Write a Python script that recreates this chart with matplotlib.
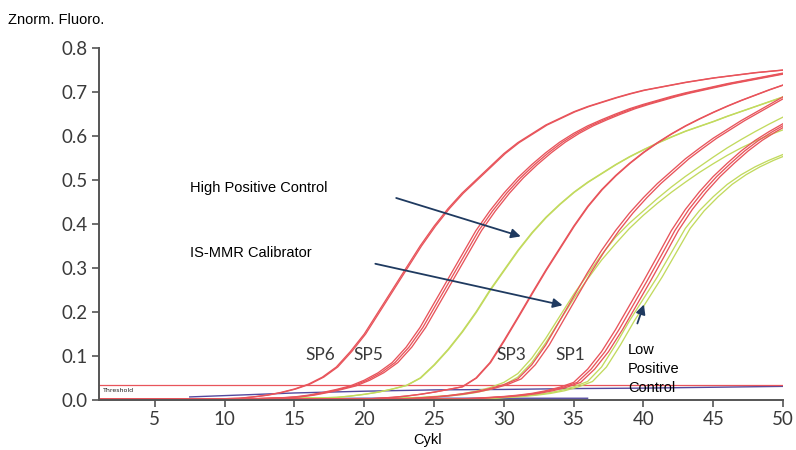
import numpy as np
import matplotlib
matplotlib.use("Agg")
import matplotlib.pyplot as plt

##### data #####

cycles = np.arange(1, 51)

# SP6 standard (red)
sp6 = [0.002, 0.002, 0.002, 0.002, 0.002, 0.002, 0.002, 0.002, 0.003, 0.003,
       0.004, 0.007, 0.011, 0.017, 0.025, 0.036, 0.052, 0.075, 0.11, 0.15,
       0.20, 0.25, 0.30, 0.35, 0.395, 0.435, 0.47, 0.50, 0.53, 0.56,
       0.585, 0.605, 0.625, 0.64, 0.655, 0.667, 0.677, 0.687, 0.696, 0.704,
       0.71, 0.716, 0.722, 0.727, 0.732, 0.736, 0.74, 0.744, 0.747, 0.75]
sp6_ct = [0.0, 0.1]

# SP5 standard (red)
sp5 = [0.002, 0.002, 0.002, 0.002, 0.002, 0.002, 0.002, 0.002, 0.002, 0.002,
       0.003, 0.003, 0.004, 0.005, 0.007, 0.011, 0.017, 0.024, 0.032, 0.045,
       0.062, 0.085, 0.12, 0.165, 0.22, 0.275, 0.33, 0.385, 0.43, 0.47,
       0.505, 0.535, 0.562, 0.586, 0.606, 0.623, 0.637, 0.65, 0.662, 0.672,
       0.681, 0.69, 0.698, 0.705, 0.712, 0.719, 0.725, 0.731, 0.737, 0.743]
sp5_ct = [0.0, 0.2, 0.4]

# High Positive Control (green)
hpc = [0.002, 0.002, 0.002, 0.002, 0.002, 0.002, 0.002, 0.002, 0.002, 0.002,
       0.003, 0.003, 0.003, 0.004, 0.004, 0.005, 0.005, 0.006, 0.009, 0.013,
       0.018, 0.025, 0.033, 0.05, 0.08, 0.115, 0.155, 0.2, 0.25, 0.295,
       0.34, 0.38, 0.415, 0.445, 0.472, 0.495, 0.515, 0.535, 0.553, 0.569,
       0.584, 0.598, 0.611, 0.622, 0.633, 0.645, 0.656, 0.667, 0.678, 0.689]
hpc_ct = [0.0, 0.05]

# SP3 standard (red)
sp3 = [0.002, 0.002, 0.002, 0.002, 0.002, 0.002, 0.002, 0.002, 0.002, 0.002,
       0.002, 0.002, 0.002, 0.002, 0.002, 0.002, 0.002, 0.002, 0.002, 0.002,
       0.004, 0.006, 0.009, 0.013, 0.018, 0.024, 0.03, 0.05, 0.085, 0.135,
       0.188, 0.242, 0.295, 0.345, 0.395, 0.44, 0.478, 0.51, 0.538, 0.563,
       0.585, 0.605, 0.623, 0.639, 0.654, 0.668, 0.681, 0.693, 0.705, 0.716]
sp3_ct = [0.0, 0.05]

# SP1 standard (red), next to the IS-MMR calibrator
sp1 = [0.002, 0.002, 0.002, 0.002, 0.002, 0.002, 0.002, 0.002, 0.002, 0.002,
       0.002, 0.002, 0.002, 0.002, 0.002, 0.002, 0.002, 0.002, 0.002, 0.002,
       0.002, 0.003, 0.003, 0.005, 0.007, 0.01, 0.014, 0.019, 0.026, 0.035,
       0.048, 0.08, 0.125, 0.18, 0.235, 0.29, 0.34, 0.385, 0.425, 0.46,
       0.492, 0.52, 0.548, 0.572, 0.595, 0.615, 0.635, 0.653, 0.671, 0.689]
sp1_ct = [0.0, 0.25]

# IS-MMR calibrator (green), two replicates
cal_a = [0.003, 0.003, 0.003, 0.003, 0.003, 0.003, 0.003, 0.003, 0.003, 0.003,
         0.003, 0.003, 0.003, 0.003, 0.003, 0.003, 0.003, 0.003, 0.003, 0.003,
         0.003, 0.004, 0.005, 0.006, 0.008, 0.01, 0.014, 0.02, 0.028, 0.04,
         0.06, 0.095, 0.14, 0.19, 0.24, 0.285, 0.33, 0.37, 0.402, 0.43,
         0.458, 0.484, 0.508, 0.53, 0.552, 0.573, 0.592, 0.61, 0.627, 0.643]
cal_b = [0.003, 0.003, 0.003, 0.003, 0.003, 0.003, 0.003, 0.003, 0.003, 0.003,
         0.003, 0.003, 0.003, 0.003, 0.003, 0.003, 0.003, 0.003, 0.003, 0.003,
         0.003, 0.003, 0.004, 0.005, 0.007, 0.009, 0.012, 0.017, 0.024, 0.034,
         0.052, 0.085, 0.13, 0.18, 0.23, 0.275, 0.318, 0.355, 0.39, 0.42,
         0.447, 0.472, 0.495, 0.517, 0.537, 0.556, 0.573, 0.588, 0.602, 0.614]

# late red standards next to the low positive control
late = [0.002, 0.002, 0.002, 0.002, 0.002, 0.002, 0.002, 0.002, 0.002, 0.002,
        0.002, 0.002, 0.002, 0.002, 0.002, 0.002, 0.002, 0.002, 0.002, 0.002,
        0.002, 0.002, 0.002, 0.002, 0.002, 0.002, 0.003, 0.004, 0.006, 0.008,
        0.011, 0.015, 0.021, 0.029, 0.04, 0.07, 0.11, 0.16, 0.215, 0.27,
        0.327, 0.385, 0.433, 0.473, 0.508, 0.538, 0.566, 0.59, 0.61, 0.628]
late_ct = [0.0, 0.25, 0.5]

# Low Positive Control (green)
lpc = [0.003, 0.003, 0.003, 0.003, 0.003, 0.003, 0.003, 0.003, 0.003, 0.003,
       0.003, 0.003, 0.003, 0.003, 0.003, 0.003, 0.003, 0.003, 0.003, 0.003,
       0.003, 0.003, 0.003, 0.003, 0.003, 0.003, 0.003, 0.003, 0.004, 0.006,
       0.008, 0.011, 0.015, 0.021, 0.03, 0.042, 0.075, 0.125, 0.18, 0.23,
       0.28, 0.335, 0.39, 0.43, 0.462, 0.49, 0.512, 0.53, 0.545, 0.558]
lpc_ct = [0.0, 0.35]

# flat (negative) traces along the bottom
neg1_x = [7.5, 10, 15, 20, 25, 30, 35, 40, 45, 50]
neg1_y = [0.007, 0.010, 0.016, 0.020, 0.023, 0.024, 0.026, 0.027, 0.029, 0.031]
neg2_x = [9, 15, 20, 25, 30, 36]
neg2_y = [0.003, 0.003, 0.004, 0.004, 0.004, 0.004]

threshold = 0.034

RED = '#e8545b'
GREEN = '#c2da5e'
PURPLE = '#54499e'
NAVY = '#1f3a60'

##### plot #####

fig = plt.figure(figsize=(7.96, 4.5), dpi=100)
ax = fig.add_axes([0.1244, 0.1111, 0.8593, 0.7822])

ax.plot(neg2_x, neg2_y, color=PURPLE, lw=1.0)
ax.plot(neg1_x, neg1_y, color=PURPLE, lw=1.0)
ax.axhline(threshold, color=RED, lw=0.9)

for prof, cts in [(hpc, hpc_ct), (cal_a, [0.0]), (cal_b, [0.0]), (lpc, lpc_ct)]:
    for ct in cts:
        ax.plot(cycles + ct, prof, color=GREEN, lw=0.95)

for prof, cts in [(sp6, sp6_ct), (sp5, sp5_ct), (sp3, sp3_ct),
                  (sp1, sp1_ct), (late, late_ct)]:
    for ct in cts:
        ax.plot(cycles + ct, prof, color=RED, lw=0.95)

ax.set_xlim(1, 50)
ax.set_ylim(0, 0.8)
ax.set_xticks(range(5, 51, 5))
ax.set_yticks(np.arange(0, 0.81, 0.1))
ax.set_yticklabels(['%.1f' % v for v in np.arange(0, 0.81, 0.1)])

for s in ['top', 'right']:
    ax.spines[s].set_visible(False)
for s in ['left', 'bottom']:
    ax.spines[s].set_color('#555555')
    ax.spines[s].set_linewidth(1.4)
ax.tick_params(colors='#555555', width=1.2, length=5, labelsize=13.5,
               labelcolor='#3a3a3a', pad=3)
for lab in ax.get_xticklabels() + ax.get_yticklabels():
    lab.set_family('Lato')

# labels
arial = 'Liberation Sans'
fig.text(0.01, 0.955, 'Znorm. Fluoro.', family=arial, fontsize=10.5, va='center')
ax.set_xlabel('Cykl', family=arial, fontsize=10.5)
ax.xaxis.set_label_coords(0.481, -0.095)
ax.text(1.3, 0.022, 'Threshold', fontsize=4.5, va='center', color='#222222')

ax.text(7.5, 0.482, 'High Positive Control', family=arial, fontsize=10.5, va='center')
ax.text(7.5, 0.334, 'IS-MMR Calibrator', family=arial, fontsize=10.5, va='center')
ax.text(38.9, 0.070, 'Low\nPositive\nControl', family=arial, fontsize=10.5,
        va='center', linespacing=1.45)

for name, x in [('SP6', 15.75), ('SP5', 19.2), ('SP3', 29.5), ('SP1', 33.7)]:
    ax.text(x, 0.102, name, family='Lato', fontsize=12.5, color='#3a3a3a', va='center')

arrow = dict(arrowstyle='-|>', color=NAVY, lw=1.3, mutation_scale=14)
ax.annotate('', xy=(31.4, 0.370), xytext=(22.1, 0.461), arrowprops=arrow)
ax.annotate('', xy=(34.4, 0.214), xytext=(20.6, 0.311), arrowprops=arrow)
ax.annotate('', xy=(40.1, 0.223), xytext=(39.5, 0.168), arrowprops=arrow)

plt.savefig('out.png', dpi=100)
